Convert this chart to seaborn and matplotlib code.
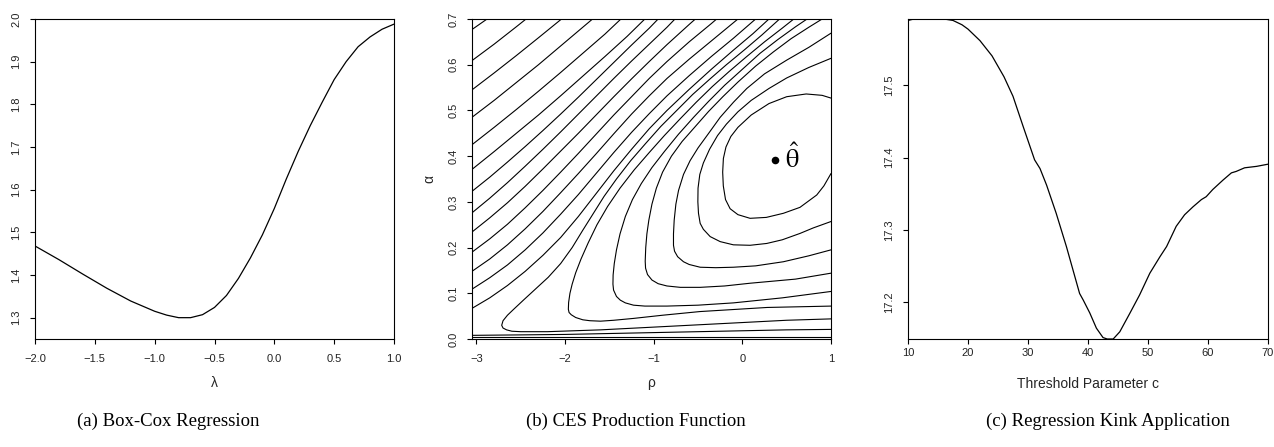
import matplotlib
matplotlib.use("Agg")
import matplotlib.pyplot as plt
import seaborn as sns

# ---------------------------------------------------------------
# (a) Box-Cox regression: profile criterion over lambda
# ---------------------------------------------------------------
boxcox_lambda = [-2.0, -1.8, -1.6, -1.4, -1.2, -1.0, -0.9, -0.8, -0.7, -0.6,
                 -0.5, -0.4, -0.3, -0.2, -0.1, 0.0, 0.1, 0.2, 0.3, 0.4,
                 0.5, 0.6, 0.7, 0.8, 0.9, 1.0]
boxcox_value = [1.468, 1.436, 1.402, 1.369, 1.339, 1.315, 1.306, 1.300, 1.300, 1.307,
                1.324, 1.352, 1.392, 1.440, 1.494, 1.556, 1.625, 1.690, 1.750, 1.805,
                1.858, 1.900, 1.935, 1.958, 1.976, 1.988]
boxcox_xticks = [-2.0, -1.5, -1.0, -0.5, 0.0, 0.5, 1.0]
boxcox_yticks = [1.3, 1.4, 1.5, 1.6, 1.7, 1.8, 1.9, 2.0]

# ---------------------------------------------------------------
# (b) CES production function: criterion contours over (rho, alpha)
# ---------------------------------------------------------------
# lines entering from the left edge and leaving through the top
diagonal_contours = [
    [(-3.05, 0.677), (-2.88, 0.700)],
    [(-3.05, 0.609), (-2.80, 0.645), (-2.55, 0.683), (-2.44, 0.700)],
    [(-3.05, 0.545), (-2.80, 0.582), (-2.55, 0.620), (-2.30, 0.659), (-2.04, 0.700)],
    [(-3.05, 0.485), (-2.80, 0.522), (-2.55, 0.561), (-2.30, 0.600), (-2.05, 0.641),
     (-1.80, 0.682), (-1.69, 0.700)],
    [(-3.05, 0.425), (-2.80, 0.463), (-2.55, 0.502), (-2.30, 0.542), (-2.05, 0.583),
     (-1.80, 0.625), (-1.55, 0.667), (-1.37, 0.700)],
    [(-3.05, 0.371), (-2.80, 0.410), (-2.55, 0.450), (-2.30, 0.490), (-2.05, 0.532),
     (-1.80, 0.575), (-1.55, 0.618), (-1.30, 0.662), (-1.10, 0.700)],
    [(-3.05, 0.323), (-2.85, 0.354), (-2.65, 0.387), (-2.45, 0.421), (-2.25, 0.456),
     (-2.05, 0.492), (-1.85, 0.529), (-1.65, 0.567), (-1.45, 0.605), (-1.25, 0.643),
     (-1.05, 0.680), (-0.95, 0.700)],
    [(-3.05, 0.276), (-2.85, 0.308), (-2.65, 0.342), (-2.45, 0.378), (-2.25, 0.415),
     (-2.05, 0.453), (-1.85, 0.492), (-1.65, 0.531), (-1.45, 0.570), (-1.25, 0.608),
     (-1.05, 0.645), (-0.85, 0.682), (-0.76, 0.700)],
    [(-3.05, 0.234), (-2.85, 0.265), (-2.65, 0.298), (-2.45, 0.334), (-2.25, 0.372),
     (-2.05, 0.411), (-1.85, 0.450), (-1.65, 0.490), (-1.45, 0.530), (-1.25, 0.569),
     (-1.05, 0.607), (-0.85, 0.644), (-0.60, 0.688), (-0.53, 0.700)],
    [(-3.05, 0.190), (-2.85, 0.219), (-2.65, 0.251), (-2.45, 0.287), (-2.25, 0.325),
     (-2.05, 0.365), (-1.85, 0.406), (-1.65, 0.448), (-1.45, 0.490), (-1.25, 0.530),
     (-1.05, 0.570), (-0.85, 0.607), (-0.60, 0.650), (-0.35, 0.690), (-0.29, 0.700)],
    [(-3.05, 0.148), (-2.85, 0.175), (-2.65, 0.206), (-2.45, 0.241), (-2.25, 0.279),
     (-2.05, 0.320), (-1.85, 0.362), (-1.65, 0.405), (-1.45, 0.449), (-1.25, 0.492),
     (-1.05, 0.532), (-0.85, 0.570), (-0.60, 0.612), (-0.35, 0.652), (-0.05, 0.700)],
    [(-3.05, 0.109), (-2.85, 0.134), (-2.65, 0.162), (-2.45, 0.195), (-2.25, 0.232),
     (-2.05, 0.273), (-1.85, 0.316), (-1.65, 0.362), (-1.45, 0.408), (-1.25, 0.452),
     (-1.05, 0.493), (-0.85, 0.532), (-0.60, 0.576), (-0.35, 0.618), (-0.10, 0.658),
     (0.12, 0.695), (0.15, 0.700)],
    [(-3.05, 0.067), (-2.85, 0.090), (-2.65, 0.117), (-2.45, 0.148), (-2.25, 0.183),
     (-2.05, 0.222), (-1.85, 0.268), (-1.65, 0.318), (-1.45, 0.368), (-1.25, 0.415),
     (-1.05, 0.460), (-0.85, 0.500), (-0.60, 0.546), (-0.35, 0.590), (-0.10, 0.632),
     (0.12, 0.668), (0.30, 0.700)],
]

# U-shaped lines opening towards the right edge (lower branch first)
valley_contours = [
    [(1.0, 0.044), (0.5, 0.041), (0.0, 0.036), (-0.5, 0.031), (-1.0, 0.026),
     (-1.6, 0.020), (-2.2, 0.016), (-2.50, 0.016), (-2.60, 0.017), (-2.66, 0.020),
     (-2.70, 0.024), (-2.715, 0.030), (-2.70, 0.040), (-2.65, 0.052), (-2.58, 0.065),
     (-2.47, 0.085), (-2.33, 0.110), (-2.19, 0.135), (-2.05, 0.165), (-1.92, 0.200),
     (-1.80, 0.238), (-1.68, 0.275), (-1.56, 0.312), (-1.42, 0.350), (-1.26, 0.390),
     (-1.09, 0.428), (-0.92, 0.465), (-0.74, 0.500), (-0.56, 0.535), (-0.37, 0.568),
     (-0.18, 0.600), (0.02, 0.632), (0.22, 0.665), (0.42, 0.700)],
    [(1.0, 0.072), (0.28, 0.069), (-0.48, 0.060), (-0.90, 0.052), (-1.23, 0.045),
     (-1.45, 0.041), (-1.60, 0.039), (-1.72, 0.040), (-1.80, 0.042), (-1.88, 0.047),
     (-1.93, 0.053), (-1.955, 0.058), (-1.963, 0.065), (-1.96, 0.080), (-1.945, 0.100),
     (-1.92, 0.120), (-1.88, 0.145), (-1.82, 0.175), (-1.74, 0.210), (-1.64, 0.250),
     (-1.52, 0.290), (-1.38, 0.330), (-1.22, 0.370), (-1.05, 0.408), (-0.88, 0.445),
     (-0.70, 0.482), (-0.52, 0.518), (-0.34, 0.552), (-0.15, 0.585), (0.05, 0.618),
     (0.25, 0.650), (0.45, 0.680), (0.58, 0.700)],
    [(1.0, 0.104), (0.45, 0.090), (-0.101, 0.079), (-0.50, 0.074), (-0.851, 0.072),
     (-1.10, 0.072), (-1.228, 0.074), (-1.32, 0.079), (-1.377, 0.085), (-1.42, 0.093),
     (-1.453, 0.107), (-1.46, 0.120), (-1.458, 0.140), (-1.445, 0.165), (-1.42, 0.195),
     (-1.38, 0.230), (-1.32, 0.268), (-1.24, 0.305), (-1.14, 0.340), (-1.02, 0.375),
     (-0.88, 0.410), (-0.72, 0.448), (-0.55, 0.485), (-0.38, 0.520), (-0.20, 0.555),
     (0.0, 0.590), (0.20, 0.625), (0.40, 0.655), (0.60, 0.683), (0.73, 0.700)],
    [(1.0, 0.144), (0.60, 0.131), (0.087, 0.122), (-0.20, 0.116), (-0.476, 0.113),
     (-0.70, 0.113), (-0.851, 0.116), (-0.95, 0.121), (-1.02, 0.129), (-1.07, 0.141),
     (-1.092, 0.155), (-1.096, 0.170), (-1.09, 0.200), (-1.077, 0.230), (-1.055, 0.260),
     (-1.02, 0.295), (-0.97, 0.330), (-0.90, 0.365), (-0.80, 0.400), (-0.68, 0.432),
     (-0.53, 0.465), (-0.38, 0.498), (-0.22, 0.530), (-0.05, 0.562), (0.15, 0.597),
     (0.35, 0.628), (0.55, 0.657), (0.75, 0.682), (0.90, 0.700)],
    [(1.0, 0.195), (0.75, 0.182), (0.463, 0.169), (0.15, 0.160), (-0.101, 0.157),
     (-0.30, 0.156), (-0.476, 0.157), (-0.60, 0.163), (-0.664, 0.169), (-0.73, 0.180),
     (-0.765, 0.192), (-0.777, 0.205), (-0.777, 0.230), (-0.769, 0.260), (-0.75, 0.295),
     (-0.72, 0.325), (-0.664, 0.360), (-0.59, 0.390), (-0.50, 0.418), (-0.38, 0.450),
     (-0.25, 0.485), (-0.10, 0.518), (0.05, 0.548), (0.25, 0.580), (0.50, 0.610),
     (0.75, 0.638), (1.0, 0.669)],
    [(1.0, 0.257), (0.80, 0.243), (0.651, 0.231), (0.45, 0.217), (0.275, 0.209),
     (0.087, 0.205), (-0.101, 0.206), (-0.25, 0.213), (-0.363, 0.224), (-0.44, 0.240),
     (-0.476, 0.253), (-0.495, 0.275), (-0.502, 0.300), (-0.50, 0.330), (-0.48, 0.360),
     (-0.44, 0.385), (-0.37, 0.415), (-0.28, 0.445), (-0.18, 0.470), (-0.05, 0.497),
     (0.10, 0.522), (0.30, 0.548), (0.50, 0.571), (0.75, 0.594), (1.0, 0.614)],
]

# innermost contour around the estimate
inner_contour = [(1.0, 0.362), (0.92, 0.335), (0.839, 0.315), (0.65, 0.288), (0.463, 0.275),
                 (0.27, 0.266), (0.087, 0.264), (-0.05, 0.272), (-0.138, 0.285), (-0.19, 0.305),
                 (-0.215, 0.335), (-0.222, 0.365), (-0.214, 0.395), (-0.185, 0.420),
                 (-0.13, 0.443), (-0.05, 0.463), (0.10, 0.490), (0.30, 0.515), (0.50, 0.530),
                 (0.72, 0.536), (0.90, 0.533), (1.0, 0.527)]

# nearly flat lines hugging alpha = 0
floor_contours = [
    [(-3.05, 0.008), (-2.5, 0.009), (-2.0, 0.010), (-1.5, 0.012), (-1.0, 0.014),
     (-0.5, 0.016), (0.0, 0.018), (0.5, 0.020), (1.0, 0.021)],
    [(-3.05, 0.005), (-1.0, 0.005), (1.0, 0.005)],
]

theta_hat = (0.369, 0.392)
ces_xticks = [-3, -2, -1, 0, 1]
ces_yticks = [0.0, 0.1, 0.2, 0.3, 0.4, 0.5, 0.6, 0.7]

# ---------------------------------------------------------------
# (c) Regression kink: criterion over the threshold parameter
# ---------------------------------------------------------------
kink_c = [10, 11, 12, 14, 16, 17.5, 19, 20, 22, 24, 26, 27.5, 29.2, 31.1, 32, 33.1,
          34.7, 36.4, 38.6, 39.2, 40.3, 41.4, 42.5, 43.2, 44.2, 45.3, 47, 48.6, 50.3,
          52, 53.1, 54.7, 56.1, 57.5, 58.9, 59.7, 60.8, 62.5, 63.9, 64.7, 66.1, 68.1, 70]
kink_value = [17.590, 17.592, 17.592, 17.592, 17.592, 17.590, 17.584, 17.578, 17.562,
              17.541, 17.512, 17.485, 17.443, 17.397, 17.385, 17.362, 17.323, 17.277,
              17.212, 17.203, 17.185, 17.164, 17.151, 17.149, 17.149, 17.159, 17.185,
              17.210, 17.240, 17.263, 17.277, 17.305, 17.321, 17.332, 17.342, 17.346,
              17.356, 17.369, 17.379, 17.381, 17.386, 17.388, 17.391]
kink_xticks = [10, 20, 30, 40, 50, 60, 70]
kink_yticks = [17.2, 17.3, 17.4, 17.5]

captions = ["(a) Box-Cox Regression", "(b) CES Production Function",
            "(c) Regression Kink Application"]

# ---------------------------------------------------------------
sns.set_theme(style="white")
plt.rcParams["font.family"] = ["Liberation Sans", "DejaVu Sans"]
plt.rcParams["mathtext.fontset"] = "stix"

W, H = 1274, 447
fig = plt.figure(figsize=(W / 100, H / 100), dpi=100)


def add_panel(left_px, right_px):
    top_px, bottom_px = 19, 339
    return fig.add_axes([left_px / W, (H - bottom_px) / H,
                         (right_px - left_px) / W, (bottom_px - top_px) / H])


def style_axes(ax, xpad):
    for s in ax.spines.values():
        s.set_visible(True)
        s.set_color("black")
        s.set_linewidth(0.8)
    ax.tick_params(axis="both", direction="out", length=3.4, width=0.8,
                   color="black", labelsize=8, labelcolor="#222222",
                   bottom=True, left=True)
    ax.tick_params(axis="x", pad=xpad)
    ax.tick_params(axis="y", pad=6.5, labelrotation=90)
    for t in ax.get_yticklabels():
        t.set_verticalalignment("center")
    ax.grid(False)
    ax.set_facecolor("white")


line_kw = dict(color="black", linewidth=0.9, sort=False, estimator=None, legend=False)

# (a)
ax1 = add_panel(35, 394)
sns.lineplot(x=boxcox_lambda, y=boxcox_value, ax=ax1, **line_kw)
ax1.set_xlim(-2.0, 1.0)
ax1.set_ylim(1.25, 2.0)
ax1.set_xticks(boxcox_xticks)
ax1.set_yticks(boxcox_yticks)
ax1.set_xlabel("λ", fontsize=10)
ax1.xaxis.set_label_coords(0.5, -0.115)
ax1.set_ylabel("")
style_axes(ax1, xpad=7.5)

# (b)
ax2 = add_panel(472, 831)
contour_kw = dict(color="black", linewidth=0.8, sort=False, estimator=None, legend=False)
for path in diagonal_contours + valley_contours + [inner_contour] + floor_contours:
    rho = [p[0] for p in path]
    alpha = [p[1] for p in path]
    sns.lineplot(x=rho, y=alpha, ax=ax2, **contour_kw)
sns.scatterplot(x=[theta_hat[0]], y=[theta_hat[1]], ax=ax2, color="black",
                s=30, edgecolor="black", linewidth=0, legend=False, zorder=5)
ax2.text(theta_hat[0] + 0.197, theta_hat[1] - 0.019, r"$\hat{\mathrm{\theta}}$",
         fontsize=19, ha="center", va="baseline", color="black")
ax2.set_xlim(-3.05, 1.0)
ax2.set_ylim(0.0, 0.7)
ax2.set_xticks(ces_xticks)
ax2.set_yticks(ces_yticks)
ax2.set_xlabel("ρ", fontsize=10)
ax2.xaxis.set_label_coords(0.5, -0.115)
ax2.set_ylabel("α", fontsize=10)
ax2.yaxis.set_label_coords(-0.098, 0.5)
style_axes(ax2, xpad=7.5)

# (c)
ax3 = add_panel(908, 1268)
sns.lineplot(x=kink_c, y=kink_value, ax=ax3, **line_kw)
ax3.set_xlim(10, 70)
ax3.set_ylim(min(kink_value), max(kink_value))
ax3.set_xticks(kink_xticks)
ax3.set_yticks(kink_yticks)
ax3.set_xlabel("Threshold Parameter c", fontsize=10)
ax3.xaxis.set_label_coords(0.5, -0.118)
ax3.set_ylabel("")
style_axes(ax3, xpad=3.0)

# sub-figure captions
for x_px, text in zip([77, 526, 986], captions):
    fig.text(x_px / W, (H - 421) / H, text, family=["Liberation Serif", "DejaVu Serif"],
             fontsize=13.5, ha="left", va="center", color="black")

fig.savefig("out.png", dpi=100, facecolor="white")
